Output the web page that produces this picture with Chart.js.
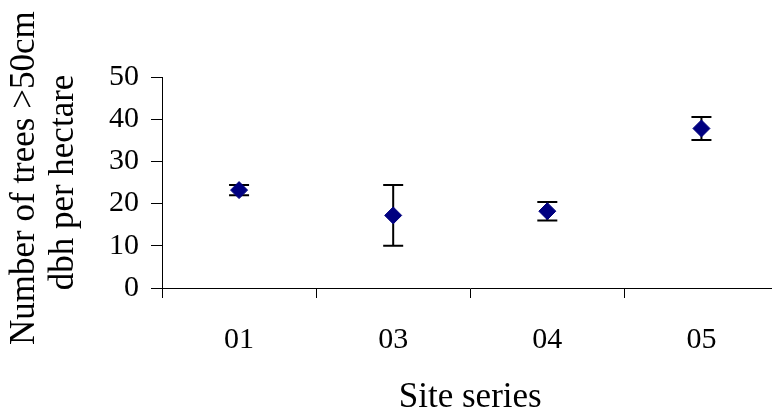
<!DOCTYPE html>
<html>
<head>
<meta charset="utf-8">
<script src="https://cdn.jsdelivr.net/npm/chart.js@4/dist/chart.umd.min.js"></script>
<style>
  html, body { margin: 0; padding: 0; background: #fff; overflow: hidden; }
  #wrap { width: 772px; height: 416px; overflow: hidden; position: relative; }
  #c { position: absolute; left: 0; top: 0; }
</style>
</head>
<body>
<!-- the plot runs past the right edge, so the canvas is wider than the visible frame -->
<div id="wrap"><canvas id="c" width="788" height="416" style="width:788px;height:416px"></canvas></div>
<script>
// Site series and mean number of large trees per hectare, with error (±) values
const siteSeries = ['01', '03', '04', '05'];
const treesPerHa = [23.2, 17.2, 18.2, 37.8];
const treesError = [1.2, 7.2, 2.2, 2.7];
const yTicks = [0, 10, 20, 30, 40, 50];

const serif = "'Liberation Serif', 'Times New Roman', serif";

// Vertical error bars with caps, drawn beneath the diamond markers
const errorBars = {
  id: 'errorBars',
  beforeDatasetsDraw(chart) {
    const { ctx, scales: { x, y } } = chart;
    ctx.save();
    ctx.strokeStyle = '#000';
    ctx.lineWidth = 2;
    treesPerHa.forEach((v, i) => {
      const px = x.getPixelForValue(i);
      const top = y.getPixelForValue(v + treesError[i]);
      const bot = y.getPixelForValue(v - treesError[i]);
      ctx.beginPath();
      ctx.moveTo(px, top); ctx.lineTo(px, bot);
      ctx.moveTo(px - 10, top); ctx.lineTo(px + 10, top);
      ctx.moveTo(px - 10, bot); ctx.lineTo(px + 10, bot);
      ctx.stroke();
    });
    ctx.restore();
  }
};

new Chart(document.getElementById('c'), {
  type: 'line',
  data: {
    labels: siteSeries,
    datasets: [{
      data: treesPerHa,
      showLine: false,
      pointStyle: 'rectRot',
      pointRadius: 8.5,
      pointBackgroundColor: '#000080',
      pointBorderColor: '#000080',
      pointBorderWidth: 1
    }]
  },
  options: {
    responsive: false,
    animation: false,
    devicePixelRatio: 1,
    layout: { padding: { top: 77, left: 0, right: 0, bottom: 0 } },
    plugins: { legend: { display: false }, tooltip: { enabled: false } },
    scales: {
      x: {
        type: 'category',
        offset: true,
        grid: { display: true, offset: true, drawOnChartArea: false, drawTicks: true, tickLength: 10, color: '#000', lineWidth: 1 },
        border: { display: true, color: '#000', width: 1 },
        ticks: { color: '#000', font: { family: serif, size: 30 }, padding: 24, maxRotation: 0 },
        title: { display: true, text: 'Site series', color: '#000', font: { family: serif, size: 35, lineHeight: 1.2 }, padding: { top: 0, bottom: -3 } },
        afterFit(scale) {
          scale.height = 128;
          scale.paddingLeft = 0;
          scale.paddingRight = 0;
        }
      },
      y: {
        min: 0,
        max: 50,
        afterBuildTicks(scale) { scale.ticks = yTicks.map(v => ({ value: v })); },
        grid: { display: true, drawOnChartArea: false, drawTicks: true, tickLength: 11, color: '#000', lineWidth: 1 },
        border: { display: true, color: '#000', width: 1 },
        ticks: { color: '#000', font: { family: serif, size: 30 }, padding: 12 },
        title: { display: true, text: [' Number of trees >50cm', 'dbh per hectare'], color: '#000', font: { family: serif, size: 35, lineHeight: 1.1 }, padding: { top: 6, bottom: 0 } },
        afterFit(scale) { scale.width = 162; }
      }
    }
  },
  plugins: [errorBars]
});
</script>
</body>
</html>
